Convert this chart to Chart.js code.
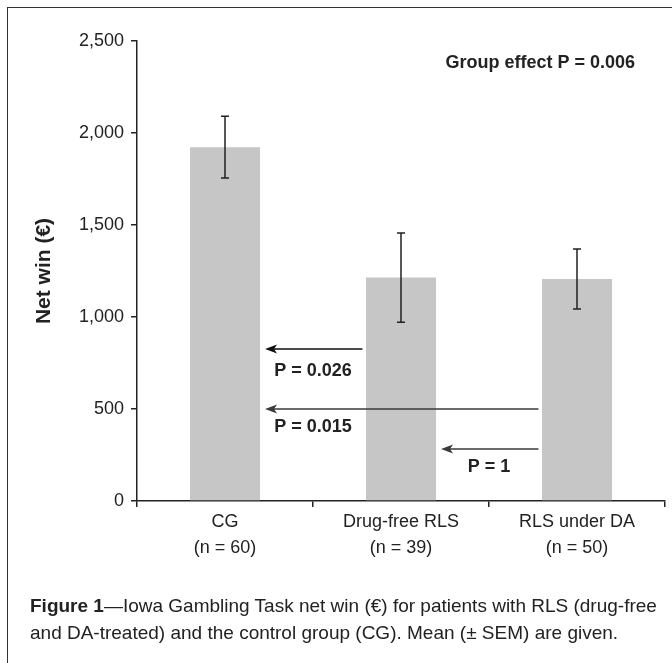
<!DOCTYPE html>
<html>
<head>
<meta charset="utf-8">
<script src="https://cdn.jsdelivr.net/npm/chart.js@4.4.0/dist/chart.umd.min.js"></script>
<style>
  html, body { margin: 0; padding: 0; background: #fff; overflow: hidden; }
  #wrap { position: relative; width: 672px; height: 663px; }
  #frame {
    position: absolute; left: 7px; top: 7px; width: 720px; height: 720px;
    border-top: 1.5px solid #333; border-left: 1.5px solid #333;
  }
  #caption {
    position: absolute; left: 30px; top: 592px;
    font-family: 'Liberation Sans Narrow', 'Liberation Sans', sans-serif;
    font-size: 19px; line-height: 27px; color: #222; white-space: nowrap;
  }
  canvas { position: absolute; left: 0; top: 0; }
</style>
</head>
<body>
<div id="wrap">
  <div id="frame"></div>
  <canvas id="chart" width="672" height="663"></canvas>
  <div id="caption"><b>Figure 1</b>—Iowa Gambling Task net win (€) for patients with RLS (drug-free<br>and DA-treated) and the control group (CG). Mean (± SEM) are given.</div>
</div>
<script>
// Chart values
const groups = [['CG', '(n = 60)'], ['Drug-free RLS', '(n = 39)'], ['RLS under DA', '(n = 50)']];
const means = [1923, 1214, 1207];
const sems = [168, 242, 163];
const yTicks = [0, 500, 1000, 1500, 2000, 2500];

// Pairwise comparison arrows (tail group -> head group)
const arrowFrom = [1, 2, 2];
const arrowTo = [0, 0, 1];
const arrowValues = [826, 500, 283];
const arrowLabels = ['P = 0.026', 'P = 0.015', 'P = 1'];
const labelValues = [707, 402, 185];
const labelSpots = [0.5, 0.5, 1.5];
const groupEffect = 'Group effect P = 0.006';
const groupEffectValue = 2380;

const FONT = "'Liberation Sans Narrow', 'Liberation Sans', sans-serif";
const INK = '#222';

Chart.defaults.font.family = FONT;
Chart.defaults.color = INK;

// Whiskers for mean ± SEM
const errorBars = {
  id: 'errorBars',
  afterDatasetsDraw(chart) {
    const ctx = chart.ctx;
    const y = chart.scales.y;
    const meta = chart.getDatasetMeta(0);
    ctx.save();
    ctx.strokeStyle = INK;
    ctx.lineWidth = 1.5;
    meta.data.forEach((bar, i) => {
      const top = y.getPixelForValue(means[i] + sems[i]);
      const bot = y.getPixelForValue(means[i] - sems[i]);
      ctx.beginPath();
      ctx.moveTo(bar.x, top);
      ctx.lineTo(bar.x, bot);
      ctx.moveTo(bar.x - 4, top);
      ctx.lineTo(bar.x + 4, top);
      ctx.moveTo(bar.x - 4, bot);
      ctx.lineTo(bar.x + 4, bot);
      ctx.stroke();
    });
    ctx.restore();
  }
};

// Comparison arrows and p-value texts
const comparisons = {
  id: 'comparisons',
  afterDatasetsDraw(chart) {
    const ctx = chart.ctx;
    const x = chart.scales.x;
    const y = chart.scales.y;
    const meta = chart.getDatasetMeta(0);
    const half = meta.data[0].width / 2;
    ctx.save();
    arrowValues.forEach((v, i) => {
      const yy = y.getPixelForValue(v);
      const tip = x.getPixelForValue(arrowTo[i]) + half + 5;
      const tail = x.getPixelForValue(arrowFrom[i]) - half - 3.5;
      const col = i === 0 ? '#111' : '#3a3a3a';
      ctx.strokeStyle = col;
      ctx.fillStyle = col;
      ctx.lineWidth = 1.6;
      ctx.beginPath();
      ctx.moveTo(tail, yy);
      ctx.lineTo(tip + 6, yy);
      ctx.stroke();
      ctx.beginPath();
      ctx.moveTo(tip, yy);
      ctx.lineTo(tip + 12, yy - 4.5);
      ctx.lineTo(tip + 9, yy);
      ctx.lineTo(tip + 12, yy + 4.5);
      ctx.closePath();
      ctx.fill();

      ctx.fillStyle = INK;
      ctx.font = 'bold 18px ' + FONT;
      ctx.textAlign = 'center';
      ctx.textBaseline = 'middle';
      const lx = (x.getPixelForValue(Math.floor(labelSpots[i])) + x.getPixelForValue(Math.ceil(labelSpots[i]))) / 2;
      ctx.fillText(arrowLabels[i], lx, y.getPixelForValue(labelValues[i]));
    });
    ctx.fillStyle = INK;
    ctx.font = 'bold 18px ' + FONT;
    ctx.textAlign = 'right';
    ctx.textBaseline = 'middle';
    ctx.fillText(groupEffect, chart.chartArea.right - 30, y.getPixelForValue(groupEffectValue));
    ctx.restore();
  }
};

new Chart(document.getElementById('chart').getContext('2d'), {
  type: 'bar',
  data: {
    labels: groups,
    datasets: [{
      data: means,
      backgroundColor: '#c6c6c6',
      borderWidth: 0,
      categoryPercentage: 1,
      barPercentage: 0.398
    }]
  },
  options: {
    responsive: false,
    animation: false,
    events: [],
    layout: { padding: { left: 0, top: 41, right: 7, bottom: 0 } },
    plugins: {
      legend: { display: false },
      tooltip: { enabled: false }
    },
    scales: {
      x: {
        afterFit(scale) { scale.height = 162; },
        grid: {
          display: true,
          drawOnChartArea: false,
          drawTicks: true,
          tickLength: 6,
          color: INK,
          lineWidth: 1.5
        },
        border: { display: true, color: INK, width: 1.5 },
        ticks: {
          font: { size: 18, lineHeight: 1.45 },
          color: INK,
          padding: 2,
          maxRotation: 0
        }
      },
      y: {
        min: 0,
        max: 2500,
        afterFit(scale) { scale.width = 137; },
        afterBuildTicks(scale) { scale.ticks = yTicks.map(v => ({ value: v })); },
        grid: {
          display: true,
          drawOnChartArea: false,
          drawTicks: true,
          tickLength: 6,
          color: INK,
          lineWidth: 1.5
        },
        border: { display: true, color: INK, width: 1.5 },
        ticks: {
          font: { size: 18 },
          color: INK,
          padding: 7,
          callback: v => v.toLocaleString('en-US')
        },
        title: {
          display: true,
          text: 'Net win (€)',
          font: { size: 21, weight: 'bold', lineHeight: 1.2 },
          color: INK,
          padding: { top: 32, bottom: 0 }
        }
      }
    }
  },
  plugins: [errorBars, comparisons]
});
</script>
</body>
</html>
